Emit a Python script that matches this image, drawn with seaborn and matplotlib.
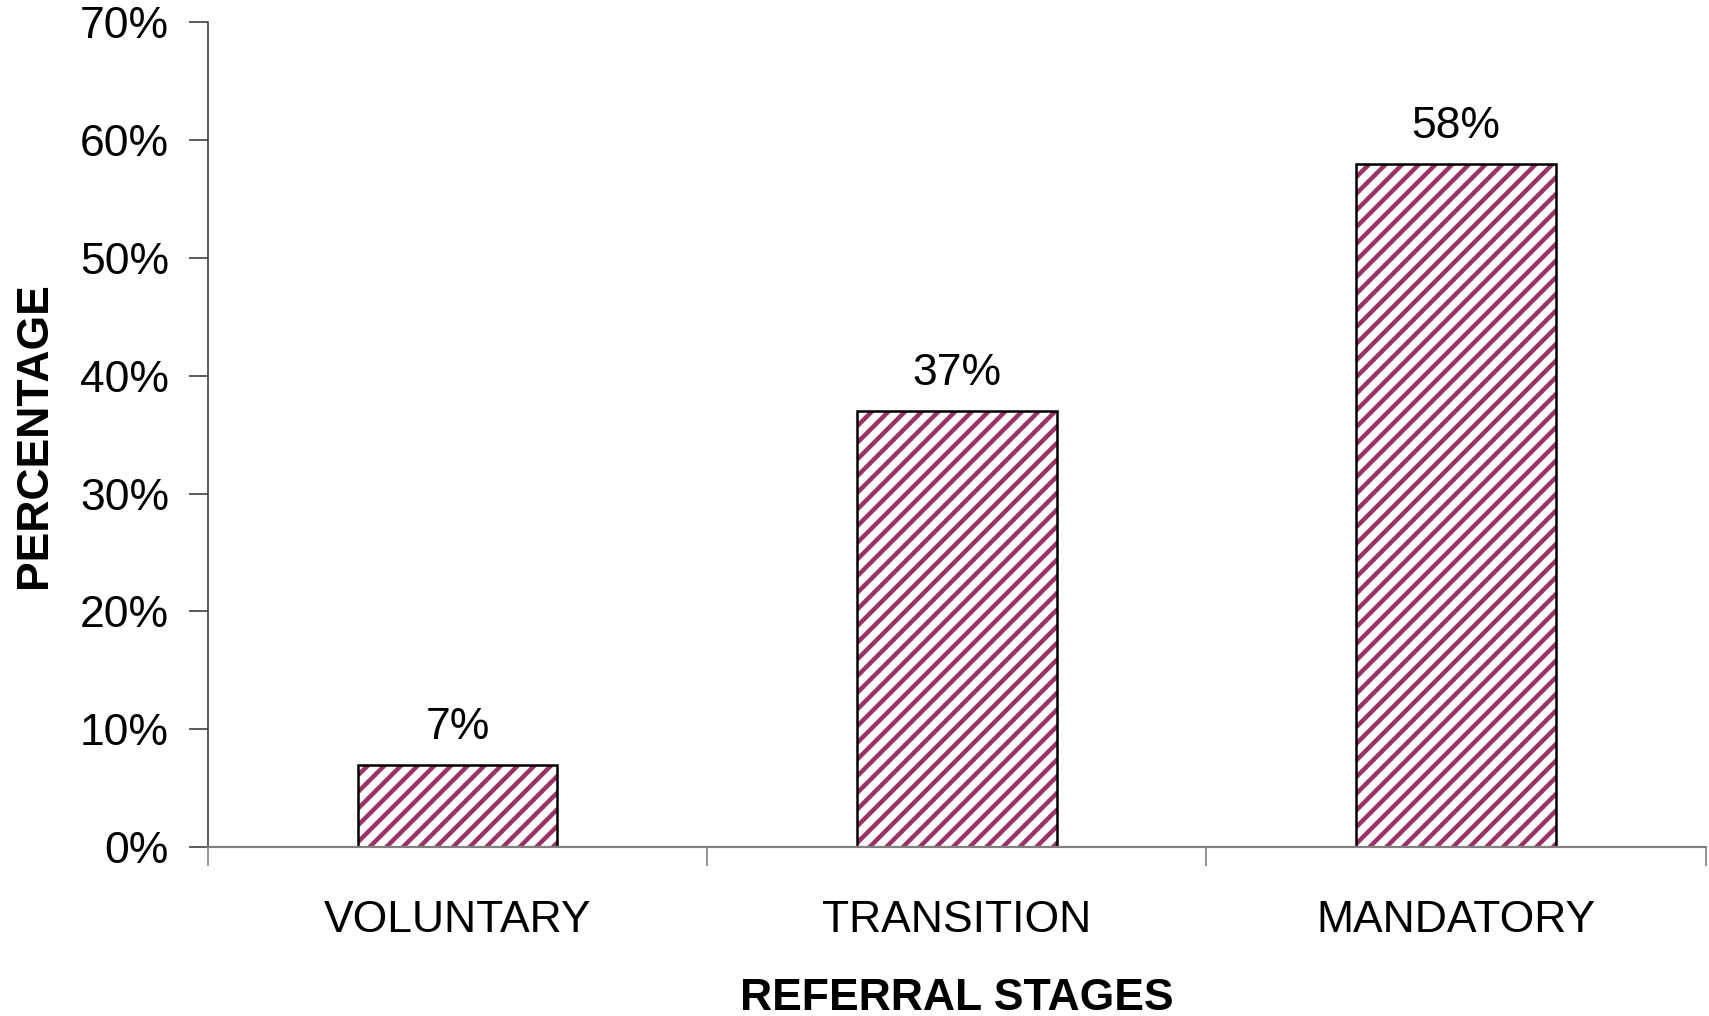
import matplotlib
matplotlib.use("Agg")
import matplotlib.pyplot as plt
import seaborn as sns

# --- Data ---
stages = ["VOLUNTARY", "TRANSITION", "MANDATORY"]
percentages = [7, 37, 58]
y_ticks = [0, 10, 20, 30, 40, 50, 60, 70]

PLUM = "#993366"

sns.set_theme(style="white")
plt.rcParams["font.family"] = ["Liberation Sans", "DejaVu Sans"]
plt.rcParams["hatch.linewidth"] = 3.2
plt.rcParams["text.color"] = "black"
plt.rcParams["axes.labelcolor"] = "black"
plt.rcParams["xtick.color"] = "black"
plt.rcParams["ytick.color"] = "black"

fig = plt.figure(figsize=(17.09, 10.16), dpi=100)
ax = fig.add_axes([0.1217, 0.1663, 0.8763, 0.8117])

# hatched fill
sns.barplot(x=stages, y=percentages, color="white", width=0.4, ax=ax,
            saturation=1)
for p in ax.patches:
    p.set_hatch("//")
    p.set_edgecolor(PLUM)
    p.set_linewidth(0)

# black outline on top
sns.barplot(x=stages, y=percentages, fill=False, edgecolor="black",
            linewidth=1.8, width=0.4, ax=ax)

ax.bar_label(ax.containers[1], labels=[f"{v}%" for v in percentages],
             padding=12, fontsize=32, color="black")

ax.set_xlim(-0.5, 2.5)
ax.set_ylim(0, 70)
ax.set_yticks(y_ticks)
ax.set_yticklabels([f"{t}%" for t in y_ticks], fontsize=32)

# ticks between categories, labels at centers
ax.set_xticks([-0.5, 0.5, 1.5, 2.5])
ax.set_xticklabels([])
ax.set_xticks([0, 1, 2], minor=True)
ax.set_xticklabels(stages, minor=True, fontsize=32)
ax.tick_params(axis="x", which="major", direction="out", length=14,
               width=1.2, color="#808080", bottom=True)
ax.tick_params(axis="x", which="minor", length=0, pad=38)
ax.tick_params(axis="y", direction="out", length=14, width=1.2,
               color="#404040", left=True, pad=14)

for s in ["top", "right"]:
    ax.spines[s].set_visible(False)
ax.spines["left"].set_color("#404040")
ax.spines["left"].set_linewidth(1.2)
ax.spines["bottom"].set_color("#808080")
ax.spines["bottom"].set_linewidth(1.6)

ax.set_xlabel("REFERRAL STAGES", fontsize=32, fontweight="bold", labelpad=27)
ax.set_ylabel("PERCENTAGE", fontsize=32, fontweight="bold", labelpad=18)
ax.grid(False)

fig.savefig("out.png", dpi=100)
